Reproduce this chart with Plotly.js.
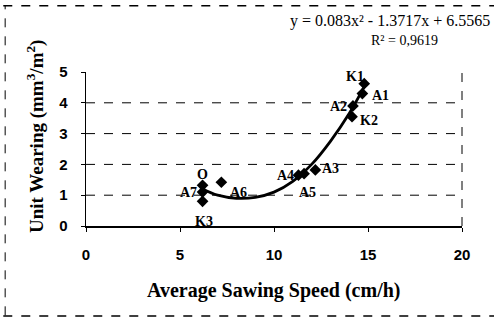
<!DOCTYPE html>
<html>
<head>
<meta charset="utf-8">
<script src="https://cdn.plot.ly/plotly-3.0.1.min.js"></script>
<style>html,body{margin:0;padding:0;background:#fff;}#chart{width:494px;height:320px;}</style>
</head>
<body>
<div id="chart"></div>
<script>
// Measured points (average sawing speed cm/h, unit wearing mm3/m2)
var pointLabels = ["K1", "A1", "A2", "K2", "A3", "A4", "A5", "A6", "O", "A7", "K3"];
var speedValues = [14.8, 14.7, 14.2, 14.15, 12.2, 11.3, 11.6, 7.2, 6.2, 6.2, 6.2];
var wearValues  = [4.62, 4.3, 3.9, 3.55, 1.82, 1.65, 1.7, 1.42, 1.32, 1.1, 0.8];

// Trend curve
var trendX = [6.2, 7, 8, 9, 10, 11, 12, 13, 14, 14.85];
var trendY = [1.2, 1.0, 0.9, 0.93, 1.1, 1.45, 2.0, 2.75, 3.65, 4.58];

var xTicks = [0, 5, 10, 15, 20];
var yTicks = [0, 1, 2, 3, 4, 5];

var equationText = "y = 0.083x² - 1.3717x + 6.5565";
var r2Text = "R² = 0,9619";
var xTitle = "Average Sawing Speed (cm/h)";
var yTitle = "Unit Wearing (mm<sup>3</sup>/m<sup>2</sup>)";

// label placement offsets (pixels) per point label
var labelStyle = {
  "K1": {xa: "center", dx: -9, dy: 7},
  "A1": {xa: "left", dx: 8, dy: -2},
  "A2": {xa: "right", dx: -4, dy: -1},
  "K2": {xa: "left", dx: 6, dy: -4},
  "A3": {xa: "left", dx: 5, dy: 1},
  "A4": {xa: "right", dx: -2, dy: 0},
  "A5": {xa: "center", dx: 3, dy: -19},
  "A6": {xa: "center", dx: 17, dy: -10},
  "O":  {xa: "center", dx: 0, dy: 11},
  "A7": {xa: "right", dx: -4, dy: 0},
  "K3": {xa: "center", dx: 1, dy: -20}
};

var serif = "Liberation Serif, Times New Roman, serif";
var sans = "Liberation Sans, Arial, sans-serif";

var annotations = pointLabels.map(function (lab, i) {
  var s = labelStyle[lab];
  return {
    x: speedValues[i], y: wearValues[i], xref: "x", yref: "y",
    text: "<b>" + lab + "</b>", showarrow: false,
    xanchor: s.xa, yanchor: "middle", xshift: s.dx, yshift: s.dy,
    font: {family: serif, size: 14, color: "#000"}
  };
});

// plot area: x 86..462, y 72..226
annotations.push({
  xref: "paper", yref: "paper", x: 1.0, y: 1.0, xanchor: "right", yanchor: "middle",
  xshift: 30, yshift: 51,
  text: equationText, showarrow: false,
  font: {family: serif, size: 16, color: "#000"}
});
annotations.push({
  xref: "paper", yref: "paper", x: 0.846, y: 1.0, xanchor: "center", yanchor: "middle",
  yshift: 32,
  text: r2Text, showarrow: false,
  font: {family: serif, size: 14, color: "#000"}
});
annotations.push({
  xref: "paper", yref: "paper", x: 0, y: 0.5, xanchor: "center", yanchor: "middle",
  xshift: -51, yshift: 12, textangle: -90,
  text: "<b>" + yTitle + "</b>", showarrow: false,
  font: {family: serif, size: 19, color: "#000"}
});
annotations.push({
  xref: "paper", yref: "paper", x: 0.5, y: 0, xanchor: "center", yanchor: "middle",
  yshift: -64,
  text: "<b>" + xTitle + "</b>", showarrow: false,
  font: {family: serif, size: 20, color: "#000"}
});

var shapes = [];
[1, 2, 3, 4].forEach(function (v) {
  shapes.push({type: "line", xref: "paper", yref: "y", x0: 0, x1: 1, y0: v, y1: v,
    line: {color: "#000", width: 1, dash: "dash"}});
});
// right border of plot
shapes.push({type: "line", xref: "paper", yref: "paper", x0: 1, x1: 1, y0: 0, y1: 1,
  line: {color: "#000", width: 1, dash: "dash"}});
// outer chart frame (top, left, bottom)
shapes.push({type: "line", xref: "paper", yref: "paper", x0: -0.22, x1: 1.09, y0: 1.43, y1: 1.43,
  line: {color: "#000", width: 1.5, dash: "dash"}});
shapes.push({type: "line", xref: "paper", yref: "paper", x0: -0.215, x1: -0.215, y0: -0.58, y1: 1.43,
  line: {color: "#000", width: 1, dash: "dash"}});
shapes.push({type: "line", xref: "paper", yref: "paper", x0: -0.22, x1: 1.09, y0: -0.585, y1: -0.585,
  line: {color: "#000", width: 1.5, dash: "dash"}});

var data = [
  {
    x: trendX, y: trendY, type: "scatter", mode: "lines",
    line: {color: "#000", width: 2.8, shape: "spline"}, hoverinfo: "skip"
  },
  {
    x: speedValues, y: wearValues, type: "scatter", mode: "markers",
    marker: {symbol: "diamond", size: 9, color: "#000"}
  }
];

var layout = {
  width: 494, height: 320,
  margin: {l: 86, r: 32, t: 72, b: 94},
  paper_bgcolor: "#fff", plot_bgcolor: "#fff",
  showlegend: false,
  xaxis: {
    range: [0, 20], tickvals: xTicks, ticktext: xTicks.map(String),
    showgrid: false, zeroline: false, showline: true, linecolor: "#000", linewidth: 1.5,
    ticks: "outside", ticklen: 4, tickcolor: "#000", ticklabelstandoff: 10,
    tickfont: {family: sans, size: 15, color: "#000", weight: "bold"}
  },
  yaxis: {
    range: [0, 5], tickvals: yTicks, ticktext: yTicks.map(String),
    showgrid: false, zeroline: false, showline: true, linecolor: "#000", linewidth: 1.5,
    ticks: "outside", ticklen: 4, tickcolor: "#000", ticklabelstandoff: 10,
    tickfont: {family: sans, size: 15, color: "#000", weight: "bold"}
  },
  annotations: annotations,
  shapes: shapes
};

Plotly.newPlot("chart", data, layout, {staticPlot: true, displayModeBar: false});
</script>
</body>
</html>
